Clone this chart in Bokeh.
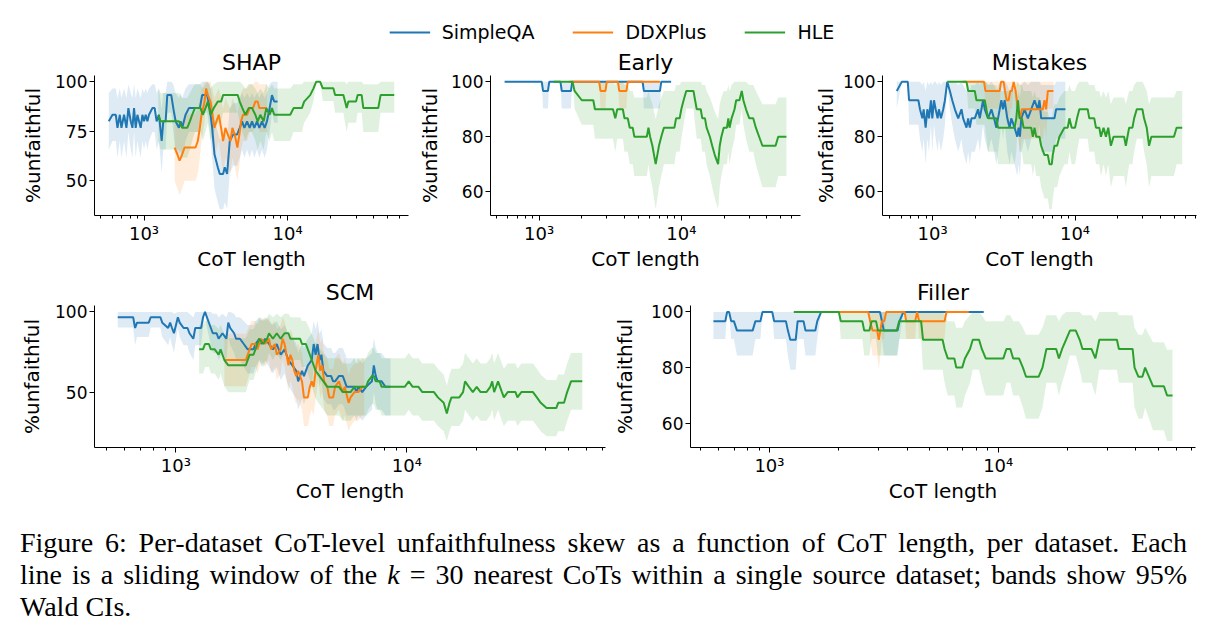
import math
from bokeh.plotting import figure
from bokeh.layouts import column, row
from bokeh.models import Range1d, FixedTicker, Legend, LegendItem, Div
from bokeh.embed import file_html
from bokeh.resources import INLINE

K = 30
DATASETS = ["SimpleQA", "DDXPlus", "HLE"]
COLORS = ["#1f77b4", "#ff7f0e", "#2ca02c"]

# ---------------- SHAP ----------------
shap_simpleqa_x = [568, 603, 636, 653, 678, 696, 726, 754, 778, 808, 830, 852, 875, 899, 923, 948, 974, 1000, 1027, 1055,
                   1083, 1143, 1186, 1224, 1271, 1327, 1362, 1414, 1452, 1548, 1599, 1659, 1750, 1797, 1846, 1947, 2054, 2284, 2448, 2541,
                   2754, 2873, 2983, 3095, 3265, 3372, 3556, 3652, 3791, 3956, 4173, 4447, 4642, 4819, 5003, 5221, 5445, 5653, 5868, 6124,
                   6357, 6633, 6922, 7186, 7499, 7785, 8080, 8522]
shap_simpleqa_y = [80, 83.3, 83.3, 76.7, 83.3, 76.7, 83.3, 76.7, 86.7, 80, 76.7, 86.7, 76.7, 83.3, 80, 76.7, 83.3, 80, 83.3, 80,
                   83.3, 86.7, 86.7, 80, 83.3, 70, 80, 80, 93.3, 93.3, 86.7, 80, 76.7, 80, 76.7, 83.3, 86.7, 86.7, 86.7, 93.3,
                   93.3, 86.7, 76.7, 63.3, 56.7, 53.3, 53.3, 56.7, 53.3, 70, 73.3, 73.3, 76.7, 80, 76.7, 80, 76.7, 80, 76.7, 80,
                   76.7, 80, 76.7, 80, 86.7, 93.3, 90, 90]
shap_ddxplus_x = [1633, 1704, 1769, 1846, 1916, 2054, 2132, 2284, 2371, 2448, 2515, 2582, 2638, 2709, 2783, 2904, 2999, 3095, 3196, 3317,
                  3443, 3556, 3691, 3831, 3999, 4128, 4284, 4471, 4617, 4741, 4895, 5221, 5445, 5744, 5964, 6190, 6357, 7186]
shap_ddxplus_y = [66.7, 63.3, 60, 63.3, 66.7, 66.7, 66.7, 66.7, 70, 76.7, 83.3, 86.7, 90, 96.7, 93.3, 90, 83.3, 76.7, 80, 83.3,
                  76.7, 70, 76.7, 73.3, 70, 76.7, 73.3, 66.7, 73.3, 80, 83.3, 83.3, 86.7, 86.7, 90, 90, 86.7, 86.7]
shap_hle_x = [1257, 1305, 1452, 1616, 1750, 1846, 2000, 2086, 2165, 2261, 2475, 2568, 2680, 2783, 2904, 3063, 3265, 3443, 3556, 4495,
              4642, 4844, 5082, 5359, 5653, 5964, 6190, 6459, 6812, 7111, 7499, 7785, 8080, 10440, 11010, 12580, 13050, 14370, 15160, 15820,
              16870, 17600, 20860, 21430, 24480, 25150, 25820, 26520, 29990, 30790, 32830, 33720, 42840, 44470, 55350]
shap_hle_y = [83.3, 80, 80, 80, 80, 76.7, 76.7, 80, 83.3, 86.7, 86.7, 83.3, 86.7, 90, 83.3, 86.7, 90, 90, 93.3, 93.3,
              90, 86.7, 83.3, 86.7, 86.7, 83.3, 80, 83.3, 80, 86.7, 83.3, 86.7, 83.3, 83.3, 86.7, 86.7, 90, 93.3, 96.7, 100,
              100, 96.7, 96.7, 93.3, 93.3, 90, 86.7, 90, 90, 93.3, 93.3, 86.7, 86.7, 93.3, 93.3]

# ---------------- Early ----------------
early_simpleqa_x = [572, 1044, 1066, 1154, 1179, 1413, 1443, 1675, 1711, 5341, 5455, 7077, 7229, 8480]
early_simpleqa_y = [100, 100, 96.7, 96.7, 100, 100, 96.7, 96.7, 100, 100, 96.7, 96.7, 100, 100]
early_ddxplus_x = [1632, 2646, 2703, 2928, 2991, 3584, 3661, 4114, 4203, 7077]
early_ddxplus_y = [100, 100, 96.7, 96.7, 100, 100, 96.7, 96.7, 100, 100]
early_hle_x = [1270, 1720, 1776, 1996, 2405, 2470, 3308, 3434, 3545, 3881, 3985, 4203, 4339, 4552, 4675, 5722, 5875, 6033, 6262, 6431,
               6604, 6782, 6966, 7229, 7545, 8944, 9184, 9737, 10000, 10380, 10830, 12180, 12500, 12840, 13690, 14050, 14670, 15060, 15880, 16490,
               17200, 18140, 18630, 19130, 19860, 20940, 21400, 21850, 22560, 23670, 24310, 25630, 26610, 27320, 28510, 30070, 32040, 33430, 35260, 37190,
               46010, 48010, 54830]
early_hle_y = [100, 100, 96.7, 93.3, 93.3, 90, 90, 86.7, 90, 90, 86.7, 86.7, 83.3, 83.3, 80, 80, 83.3, 80, 76.7, 73.3,
               70, 73.3, 76.7, 80, 83.3, 83.3, 86.7, 86.7, 90, 93.3, 96.7, 96.7, 93.3, 90, 90, 86.7, 86.7, 83.3, 80, 76.7,
               73.3, 70, 76.7, 80, 83.3, 83.3, 86.7, 83.3, 86.7, 90, 93.3, 93.3, 96.7, 93.3, 90, 86.7, 86.7, 83.3, 80, 76.7,
               76.7, 80, 80]

# ---------------- Mistakes ----------------
mistakes_simpleqa_x = [560, 607, 669, 683, 794, 815, 847, 865, 893, 918, 943, 973, 995, 1022, 1050, 1084, 1107, 1144, 1187, 1220,
                       1266, 1322, 1373, 1433, 1512, 1595, 1638, 1729, 1776, 1824, 1874, 1977, 2086, 2143, 2201, 2261, 2323, 2450, 2586, 2699,
                       2803, 2879, 3038, 3121, 3205, 3346, 3474, 3568, 3765, 3930, 4015, 4102, 4194, 4424, 4667, 4924, 5195, 5481, 5630, 5783,
                       7171, 7366, 8558]
mistakes_simpleqa_y = [96.7, 100, 100, 93.3, 93.3, 90, 86.7, 90, 83.3, 90, 86.7, 93.3, 86.7, 93.3, 90, 86.7, 90, 86.7, 90, 93.3,
                       100, 96.7, 93.3, 90, 86.7, 90, 86.7, 83.3, 86.7, 83.3, 86.7, 86.7, 90, 86.7, 90, 93.3, 90, 86.7, 90, 86.7,
                       83.3, 86.7, 93.3, 90, 93.3, 86.7, 83.3, 86.7, 83.3, 80, 83.3, 80, 86.7, 90, 86.7, 90, 93.3, 90, 93.3, 86.7,
                       86.7, 90, 90]
mistakes_ddxplus_x = [1630, 2298, 2348, 2958, 3022, 3154, 3222, 3310, 3418, 3511, 3607, 3706, 3827, 3972, 4104, 4236, 5941, 6102, 6268, 6443, 7054]
mistakes_ddxplus_y = [100, 100, 96.7, 96.7, 100, 100, 96.7, 93.3, 93.3, 96.7, 96.7, 100, 96.7, 90, 86.7, 90, 90, 93.3, 90, 96.7, 96.7]
mistakes_hle_x = [1266, 1729, 1776, 1977, 2031, 2323, 2386, 2450, 2803, 2879, 3765, 3868, 3972, 4080, 4236, 4352, 4924, 5058, 5195, 5337,
                  5630, 5783, 6102, 6443, 6613, 6866, 6978, 7171, 7482, 7771, 8421, 8887, 9129, 9478, 10000, 10330, 10720, 12270, 12600, 13650,
                  14030, 14800, 15200, 15870, 16480, 17110, 17860, 18640, 22130, 22740, 23990, 25310, 26000, 27140, 29730, 30540, 31880, 33110, 34370, 49510,
                  51680, 56610]
mistakes_hle_y = [100, 100, 96.7, 96.7, 93.3, 93.3, 90, 86.7, 86.7, 83.3, 83.3, 86.7, 93.3, 86.7, 86.7, 83.3, 83.3, 80, 83.3, 80,
                  80, 76.7, 73.3, 73.3, 70, 70, 73.3, 76.7, 76.7, 80, 83.3, 83.3, 86.7, 83.3, 83.3, 86.7, 90, 90, 86.7, 86.7,
                  83.3, 83.3, 80, 83.3, 80, 83.3, 76.7, 80, 80, 76.7, 83.3, 83.3, 86.7, 90, 90, 86.7, 83.3, 76.7, 80, 80,
                  83.3, 83.3]

# ---------------- SCM ----------------
scm_simpleqa_x = [560, 653, 666, 679, 763, 778, 857, 873, 926, 944, 962, 981, 1020, 1039, 1080, 1123, 1145, 1190, 1213, 1286,
                  1311, 1337, 1363, 1417, 1445, 1501, 1531, 1591, 1654, 1686, 1719, 1787, 1822, 1894, 1968, 2046, 2168, 2211, 2298, 2343,
                  2435, 2531, 2631, 2735, 2843, 2955, 3072, 3193, 3319, 3384, 3450, 3517, 3586, 3728, 3875, 3951, 4027, 4106, 4187, 4268,
                  4352, 4524, 4703, 4795, 4889, 5081, 5282, 5385, 5490, 5706, 5932, 6048, 6166, 6410, 6663, 7062, 7197, 7338, 7481, 7777,
                  8084, 8500]
scm_simpleqa_y = [96.7, 96.7, 90, 93.3, 93.3, 96.7, 96.7, 93.3, 90, 93.3, 90, 86.7, 96.7, 93.3, 90, 90, 86.7, 83.3, 90, 90,
                  96.7, 100, 96.7, 90, 86.7, 86.7, 83.3, 86.7, 83.3, 93.3, 90, 86.7, 83.3, 83.3, 80, 76.7, 76.7, 80, 83.3, 80,
                  83.3, 80, 76.7, 80, 73.3, 76.7, 70, 66.7, 63.3, 56.7, 60, 63.3, 60, 66.7, 70, 80, 73.3, 80, 70, 73.3,
                  63.3, 60, 60, 56.7, 56.7, 60, 60, 56.7, 53.3, 53.3, 53.3, 50, 53.3, 50, 53.3, 56.7, 66.7, 60, 56.7, 56.7,
                  53.3, 53.3]
scm_ddxplus_x = [1622, 2007, 2046, 2086, 2127, 2211, 2254, 2298, 2343, 2435, 2531, 2581, 2683, 2735, 2843, 2899, 2955, 3072, 3132, 3193,
                 3255, 3319, 3384, 3450, 3517, 3586, 3728, 3801, 3875, 3951, 4027, 4138, 4219, 4301, 4385, 4524, 4612, 4795, 4889, 5081,
                 5180, 5282, 5385, 5597, 5706, 5932, 6166, 6410, 6535]
scm_ddxplus_y = [70, 70, 73.3, 76.7, 80, 80, 76.7, 80, 83.3, 80, 83.3, 76.7, 80, 73.3, 76.7, 83.3, 80, 66.7, 73.3, 70,
                 63.3, 60, 63.3, 60, 56.7, 46.7, 46.7, 53.3, 56.7, 53.3, 63.3, 73.3, 63.3, 66.7, 56.7, 53.3, 46.7, 46.7, 53.3, 56.7,
                 53.3, 50, 53.3, 43.3, 46.7, 50, 50, 53.3, 53.3]
scm_hle_x = [1261, 1311, 1337, 1390, 1417, 1473, 1531, 1561, 1622, 1686, 2007, 2086, 2168, 2254, 2298, 2388, 2483, 2531, 2631, 2735,
             2843, 2955, 3072, 3132, 3450, 3517, 3656, 3728, 3875, 4027, 4187, 4352, 4524, 5081, 5282, 5706, 5932, 6663, 6793, 7062,
             7197, 7338, 7628, 7777, 9808, 10190, 10600, 11230, 11670, 13110, 13630, 14440, 14900, 15310, 15610, 16870, 17520, 17870, 18570, 19310,
             20070, 20860, 22110, 22980, 23430, 23880, 24830, 25810, 26310, 27350, 29550, 30130, 31320, 35170, 36560, 38000, 40270, 44370, 45240, 47940,
             49450, 51400, 57500]
scm_hle_y = [76.7, 76.7, 80, 80, 76.7, 76.7, 73.3, 76.7, 70, 66.7, 66.7, 73.3, 73.3, 80, 83.3, 80, 83.3, 86.7, 83.3, 86.7,
             83.3, 86.7, 86.7, 83.3, 83.3, 80, 80, 76.7, 70, 63.3, 60, 56.7, 53.3, 53.3, 50, 50, 53.3, 53.3, 56.7, 60,
             60, 56.7, 56.7, 53.3, 53.3, 56.7, 53.3, 53.3, 50, 50, 46.7, 43.3, 36.7, 43.3, 46.7, 46.7, 50, 56.7, 53.3, 50,
             53.3, 50, 50, 53.3, 56.7, 50, 56.7, 50, 46.7, 50, 50, 46.7, 50, 50, 46.7, 43.3, 40, 40, 43.3, 43.3,
             50, 56.7, 56.7]

# ---------------- Filler ----------------
filler_simpleqa_x = [569, 641, 653, 666, 680, 699, 721, 844, 868, 913, 932, 1028, 1048, 1180, 1204, 1233, 1302, 1328, 1409, 1437,
                     1586, 1618, 1683, 3041, 3101, 3162, 3630, 3702, 3851, 8641]
filler_simpleqa_y = [96.7, 96.7, 100, 100, 96.7, 96.7, 93.3, 93.3, 96.7, 96.7, 100, 100, 96.7, 96.7, 93.3, 90, 90, 96.7, 96.7, 93.3,
                     93.3, 96.7, 100, 100, 96.7, 93.3, 93.3, 96.7, 100, 100]
filler_ddxplus_x = [1631, 2701, 2755, 2821, 2958, 3004, 3052, 3101, 3175, 3238, 3897, 3959, 4335, 4421, 4509, 5829, 5943, 7439]
filler_ddxplus_y = [100, 100, 96.7, 93.3, 93.3, 90, 93.3, 96.7, 96.7, 100, 100, 96.7, 96.7, 100, 96.7, 96.7, 100, 100]
filler_hle_x = [1277, 2010, 2049, 2546, 2596, 2733, 2798, 2923, 2981, 3602, 3688, 4600, 4691, 5711, 5829, 6016, 6429, 6557, 6956, 7151,
                7527, 7738, 8245, 8475, 8815, 10530, 10860, 11300, 11620, 12330, 12820, 13230, 15010, 15610, 16240, 17920, 18420, 19020, 19780, 20580,
                21830, 22710, 23350, 25550, 26590, 27660, 33030, 33690, 38670, 39440, 41020, 42670, 43860, 45630, 47470, 53000, 54700, 57810]
filler_hle_y = [100, 100, 96.7, 96.7, 93.3, 93.3, 96.7, 96.7, 93.3, 93.3, 96.7, 96.7, 90, 90, 86.7, 83.3, 83.3, 80, 80, 83.3,
                86.7, 90, 90, 86.7, 83.3, 83.3, 86.7, 86.7, 83.3, 83.3, 80, 76.7, 76.7, 80, 86.7, 86.7, 83.3, 86.7, 90, 93.3,
                93.3, 90, 86.7, 86.7, 83.3, 90, 90, 86.7, 86.7, 80, 76.7, 76.7, 80, 76.7, 73.3, 73.3, 70, 70]

PANELS = [
    ("SHAP", [(shap_simpleqa_x, shap_simpleqa_y), (shap_ddxplus_x, shap_ddxplus_y), (shap_hle_x, shap_hle_y)], [50, 75, 100]),
    ("Early", [(early_simpleqa_x, early_simpleqa_y), (early_ddxplus_x, early_ddxplus_y), (early_hle_x, early_hle_y)], [60, 80, 100]),
    ("Mistakes", [(mistakes_simpleqa_x, mistakes_simpleqa_y), (mistakes_ddxplus_x, mistakes_ddxplus_y), (mistakes_hle_x, mistakes_hle_y)], [60, 80, 100]),
    ("SCM", [(scm_simpleqa_x, scm_simpleqa_y), (scm_ddxplus_x, scm_ddxplus_y), (scm_hle_x, scm_hle_y)], [50, 100]),
    ("Filler", [(filler_simpleqa_x, filler_simpleqa_y), (filler_ddxplus_x, filler_ddxplus_y), (filler_hle_x, filler_hle_y)], [60, 80, 100]),
]

FONT = "DejaVu Sans"


def wald(vals):
    lo, hi = [], []
    for v in vals:
        p = v / 100.0
        h = 1.96 * math.sqrt(p * (1 - p) / K)
        lo.append(max(0.0, p - h) * 100)
        hi.append(min(1.0, p + h) * 100)
    return lo, hi


def make_panel(title, series, yticks, width, height, ml, mr, mt, mb, ylab_standoff):
    bands = [wald(y) for _, y in series]
    xs = [math.log10(x) for s in series for x in s[0]]
    x0, x1 = min(xs), max(xs)
    dx = 0.05 * (x1 - x0)
    ylo = min(min(b[0]) for b in bands)
    yhi = max(max(b[1]) for b in bands)
    dy = 0.05 * (yhi - ylo)
    p = figure(width=width, height=height, x_axis_type="log",
               x_range=Range1d(10 ** (x0 - dx), 10 ** (x1 + dx)),
               y_range=Range1d(ylo - dy, yhi + dy),
               toolbar_location=None, output_backend="svg",
               min_border_left=ml, min_border_right=mr, min_border_top=mt, min_border_bottom=mb,
               outline_line_color=None, background_fill_color="white", border_fill_color="white")
    p.grid.visible = False
    for (x, y), (lo, hi), c in zip(series, bands, COLORS):
        p.varea(x=x, y1=lo, y2=hi, fill_color=c, fill_alpha=0.15)
    for (x, y), c in zip(series, COLORS):
        p.line(x=x, y=y, line_color=c, line_width=2)

    minor = [m * 10 ** e for e in (2, 3, 4) for m in range(2, 10)]
    p.xaxis.ticker = FixedTicker(ticks=[1000, 10000], minor_ticks=minor)
    p.xaxis.major_label_overrides = {1000: "10³", 10000: "10⁴"}
    p.yaxis.ticker = FixedTicker(ticks=yticks, minor_ticks=[])
    p.xaxis.axis_label = "CoT length"
    p.yaxis.axis_label = "%unfaithful"
    for ax in (p.xaxis, p.yaxis):
        ax.axis_line_color = "black"
        ax.axis_line_width = 1
        ax.major_tick_line_color = "black"
        ax.minor_tick_line_color = "black"
        ax.major_tick_out = 5
        ax.major_tick_in = 0
        ax.minor_tick_out = 3
        ax.minor_tick_in = 0
        ax.major_label_text_font = FONT
        ax.major_label_text_color = "black"
        ax.axis_label_text_font = FONT
        ax.axis_label_text_font_size = "20px"
        ax.axis_label_text_font_style = "normal"
        ax.axis_label_text_color = "black"
        ax.major_label_standoff = 2
    p.xaxis.major_label_text_font_size = "18px"
    p.yaxis.major_label_text_font_size = "17px"
    p.xaxis.axis_label_standoff = 0
    p.yaxis.axis_label_standoff = ylab_standoff
    p.title.text = title
    p.title.align = "center"
    p.title.text_font = FONT
    p.title.text_font_size = "22px"
    p.title.text_font_style = "normal"
    p.title.text_color = "black"
    p.title.standoff = 2
    return p


f1 = make_panel(*PANELS[0], width=415, height=228, ml=94, mr=7, mt=30, mb=58, ylab_standoff=7)
f2 = make_panel(*PANELS[1], width=395, height=228, ml=73, mr=10, mt=30, mb=58, ylab_standoff=6)
f3 = make_panel(*PANELS[2], width=413, height=228, ml=72, mr=27, mt=30, mb=58, ylab_standoff=2)
f4 = make_panel(*PANELS[3], width=610, height=237, ml=94, mr=5, mt=32, mb=63, ylab_standoff=8)
f5 = make_panel(*PANELS[4], width=613, height=237, ml=75, mr=28, mt=32, mb=63, ylab_standoff=11)

lf = figure(width=1223, height=45, x_range=Range1d(0, 1), y_range=Range1d(0, 1),
            toolbar_location=None, output_backend="svg", x_axis_location=None, y_axis_location=None,
            min_border=0, outline_line_color=None)
lf.grid.visible = False
items = []
for name, c in zip(DATASETS, COLORS):
    r = lf.line(x=[float("nan")], y=[float("nan")], line_color=c, line_width=2)
    items.append(LegendItem(label=name, renderers=[r]))
leg = Legend(items=items, orientation="horizontal", location="bottom_center",
             label_text_font=FONT, label_text_font_size="19px", label_text_color="black",
             glyph_width=41, glyph_height=20, label_height=20, label_standoff=12, spacing=38,
             padding=2, margin=2, border_line_color=None, background_fill_alpha=0)
lf.add_layout(leg, "center")

line_style = "text-align:justify; text-align-last:justify; white-space:nowrap;"
caption_html = (
    '<div style="font-family:\'Liberation Serif\',\'Times New Roman\',serif; font-size:28px; line-height:32px; '
    'color:#000; width:1187px; padding-left:20px; padding-top:17px;">'
    f'<div style="{line_style}">Figure 6: Per-dataset CoT-level unfaithfulness skew as a function of CoT length, per dataset. Each</div>'
    f'<div style="{line_style}">line is a sliding window of the <i>k</i> = 30 nearest CoTs within a single source dataset; bands show 95%</div>'
    '<div style="white-space:nowrap;">Wald CIs.</div>'
    '</div>'
)
caption = Div(text=caption_html, width=1223, height=130, margin=0)

layout = column(lf, row(f1, f2, f3, spacing=0), row(f4, f5, spacing=0), caption, spacing=0)
open("out.html", "w").write(file_html(layout, INLINE))
